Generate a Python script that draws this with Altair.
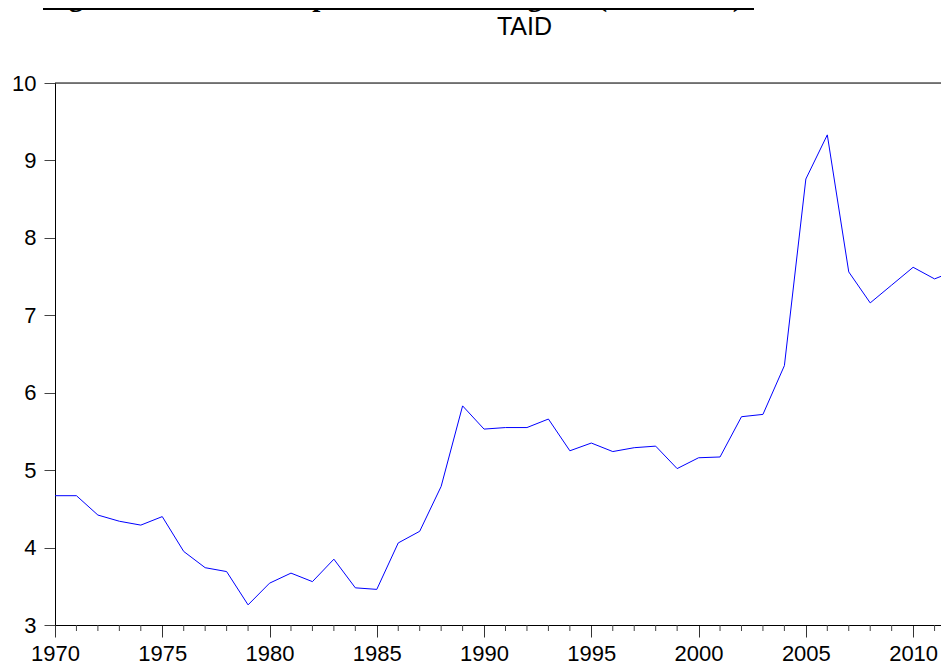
import altair as alt
import pandas as pd

# ---- data ----
years = list(range(1970, 2013))
taid = [4.67, 4.67, 4.42, 4.34, 4.29, 4.40, 3.95, 3.74, 3.69, 3.26,
        3.54, 3.67, 3.56, 3.85, 3.48, 3.46, 4.06, 4.21, 4.79, 5.83,
        5.53, 5.55, 5.55, 5.66, 5.25, 5.35, 5.24, 5.29, 5.31, 5.02,
        5.16, 5.17, 5.69, 5.72, 6.35, 8.76, 9.33, 7.56, 7.16, 7.39,
        7.62, 7.47, 7.58]
major_years = [1970, 1975, 1980, 1985, 1990, 1995, 2000, 2005, 2010]
minor_years = [y for y in range(1971, 2012) if y % 5 != 0]
y_ticks = [3, 4, 5, 6, 7, 8, 9, 10]
caption = "Figure 4: Total developmental aid to Nigeria (1970-2012)"
series_name = "TAID"

W, H = 886, 542
xscale = alt.Scale(domain=[1970, 2011.3], nice=False, zero=False)
yscale = alt.Scale(domain=[3, 10], nice=False, zero=False)

df = pd.DataFrame({"year": years, "taid": taid})

line = alt.Chart(df).mark_line(color="#0000ff", strokeWidth=1, clip=True).encode(
    x=alt.X("year:Q", scale=xscale, title=None,
            axis=alt.Axis(values=major_years, format="d", tickSize=12, tickColor="#333",
                          domainColor="black", labelFontSize=22, labelFont="Liberation Sans",
                          labelColor="black", labelPadding=6, grid=False,
                          labelFlush=False, labelOverlap=False)),
    y=alt.Y("taid:Q", scale=yscale, title=None,
            axis=alt.Axis(values=y_ticks, format="d", tickSize=11, tickColor="#444",
                          domainColor="black", labelFontSize=22, labelFont="Liberation Sans",
                          labelColor="black", labelPadding=8, grid=False, labelFlush=False)),
)

minor = alt.Chart(pd.DataFrame({"year": minor_years})).mark_rule(
    color="#444", strokeWidth=1).encode(
    x=alt.X("year:Q", scale=xscale),
    y=alt.value(H), y2=alt.value(H + 6),
)

top_border = alt.Chart(pd.DataFrame({"v": [10]})).mark_rule(
    color="black", strokeWidth=1).encode(
    y=alt.Y("v:Q", scale=yscale),
)

series_title = alt.Chart(pd.DataFrame({"t": [series_name]})).mark_text(
    font="Liberation Sans", fontSize=25, color="black", align="center",
    baseline="alphabetic").encode(
    text="t:N", x=alt.value(469.5), y=alt.value(-48),
)

cap_text = alt.Chart(pd.DataFrame({"t": [caption]})).mark_text(
    font="Liberation Serif", fontSize=29, fontWeight="bold", color="black",
    align="left", baseline="alphabetic").encode(
    text="t:N", x=alt.value(-12), y=alt.value(-77),
)

cap_underline = alt.Chart(pd.DataFrame({"t": [caption]})).mark_rule(
    color="black", strokeWidth=2).encode(
    x=alt.value(-12), x2=alt.value(699), y=alt.value(-74),
)

chart = alt.layer(minor, top_border, line, series_title, cap_text, cap_underline).properties(
    width=W, height=H,
    autosize=alt.AutoSizeParams(type="none"),
    padding={"left": 47, "top": 75, "right": 0, "bottom": 39},
).configure_view(strokeWidth=0).configure(background="white")

chart.save("out.html", embed_options={"renderer": "svg", "actions": False})
